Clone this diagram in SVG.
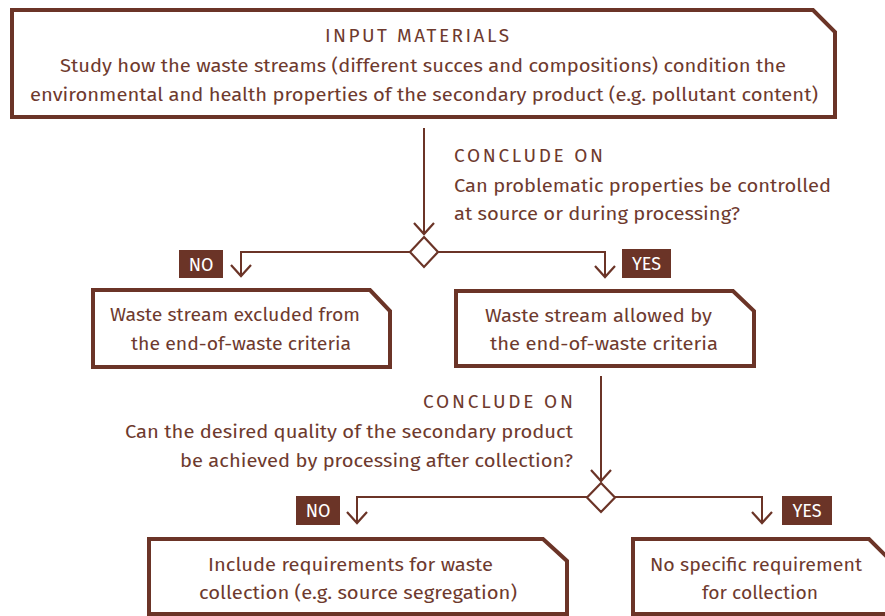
<svg xmlns="http://www.w3.org/2000/svg" width="885" height="616" viewBox="0 0 885 616">
<defs>
<style>
.box{fill:#ffffff;stroke:#6b3427;stroke-width:4;stroke-linejoin:miter}
.t{font-family:"Fira Sans","Noto Sans","Open Sans",sans-serif;font-size:18.5px;fill:#6e3a2e}
.c{text-anchor:middle}
.r{text-anchor:end}
.h{font-size:19px}
.lbl{fill:#6b3427}
.lt{font-family:"Fira Sans","Noto Sans","Open Sans",sans-serif;font-size:18px;fill:#ffffff;text-anchor:middle}
.ln{fill:none;stroke:#6b3427;stroke-width:2}
.dia{fill:#ffffff;stroke:#6b3427;stroke-width:2.2}
</style>
<marker id="chev" markerUnits="userSpaceOnUse" markerWidth="26" markerHeight="26" viewBox="-13 -13 26 26" refX="0" refY="0" orient="auto">
<path d="M-11,-10 L0,0 L-11,10" fill="none" stroke="#6b3427" stroke-width="2.2"/>
</marker>
</defs>
<rect width="885" height="616" fill="#ffffff"/>

<g id="connectors">
<path class="ln" d="M424,128 V234" marker-end="url(#chev)"/>
<path class="ln" d="M410,252 H241 V276" marker-end="url(#chev)"/>
<path class="ln" d="M438,252 H605 V277" marker-end="url(#chev)"/>
<path class="ln" d="M601,376 V481" marker-end="url(#chev)"/>
<path class="ln" d="M587,497 H357 V523" marker-end="url(#chev)"/>
<path class="ln" d="M615,497 H762 V523" marker-end="url(#chev)"/>
</g>

<g id="input-materials">
<path class="box" d="M12,10 H813 L835,32 V117 H12 Z"/>
<text class="t h" x="325" y="42" textLength="184">INPUT MATERIALS</text>
<text class="t c" x="423" y="71.5" textLength="726" lengthAdjust="spacingAndGlyphs">Study how the waste streams (different succes and compositions) condition the</text>
<text class="t c" x="424" y="100.5" textLength="788" lengthAdjust="spacingAndGlyphs">environmental and health properties of the secondary product (e.g. pollutant content)</text>
</g>

<g id="question-1">
<text class="t h" x="454" y="162" textLength="149">CONCLUDE ON</text>
<text class="t" x="454" y="192" textLength="377" lengthAdjust="spacingAndGlyphs">Can problematic properties be controlled</text>
<text class="t" x="454" y="220" textLength="286" lengthAdjust="spacingAndGlyphs">at source or during processing?</text>
</g>

<g id="decision-1">
<path class="dia" d="M424,237 L438,252 L424,267 L410,252 Z"/>
</g>

<g id="label-no-1">
<rect class="lbl" x="179" y="250" width="44" height="28"/>
<text class="lt" x="201" y="270.5">NO</text>
</g>

<g id="label-yes-1">
<rect class="lbl" x="622" y="249" width="49" height="29"/>
<text class="lt" x="646.5" y="270">YES</text>
</g>

<g id="excluded">
<path class="box" d="M93,290 H370 L390,311 V367 H93 Z"/>
<text class="t c" x="235" y="321" textLength="250" lengthAdjust="spacingAndGlyphs">Waste stream excluded from</text>
<text class="t c" x="241" y="350" textLength="220" lengthAdjust="spacingAndGlyphs">the end-of-waste criteria</text>
</g>

<g id="allowed">
<path class="box" d="M456,291 H733 L754,311 V366 H456 Z"/>
<text class="t c" x="598.5" y="322" textLength="227" lengthAdjust="spacingAndGlyphs">Waste stream allowed by</text>
<text class="t c" x="604" y="350" textLength="228" lengthAdjust="spacingAndGlyphs">the end-of-waste criteria</text>
</g>

<g id="question-2">
<text class="t h" x="423" y="408" textLength="150">CONCLUDE ON</text>
<text class="t r" x="573" y="438" textLength="448" lengthAdjust="spacingAndGlyphs">Can the desired quality of the secondary product</text>
<text class="t r" x="573" y="467" textLength="393" lengthAdjust="spacingAndGlyphs">be achieved by processing after collection?</text>
</g>

<g id="decision-2">
<path class="dia" d="M601,483 L615,497.5 L601,512 L587,497.5 Z"/>
</g>

<g id="label-no-2">
<rect class="lbl" x="296" y="496" width="44" height="29"/>
<text class="lt" x="318" y="517">NO</text>
</g>

<g id="label-yes-2">
<rect class="lbl" x="782" y="496" width="50" height="29"/>
<text class="lt" x="807" y="517">YES</text>
</g>

<g id="include-requirements">
<path class="box" d="M149,539 H543 L567,561 V614 H149 Z"/>
<text class="t c" x="350.5" y="571" textLength="285" lengthAdjust="spacingAndGlyphs">Include requirements for waste</text>
<text class="t c" x="358" y="599" textLength="318" lengthAdjust="spacingAndGlyphs">collection (e.g. source segregation)</text>
</g>

<g id="no-specific">
<path class="box" d="M633,539 H869 L891,561 V614 H633 Z"/>
<text class="t c" x="756" y="571" textLength="212" lengthAdjust="spacingAndGlyphs">No specific requirement</text>
<text class="t c" x="760" y="599" textLength="116" lengthAdjust="spacingAndGlyphs">for collection</text>
</g>
</svg>
